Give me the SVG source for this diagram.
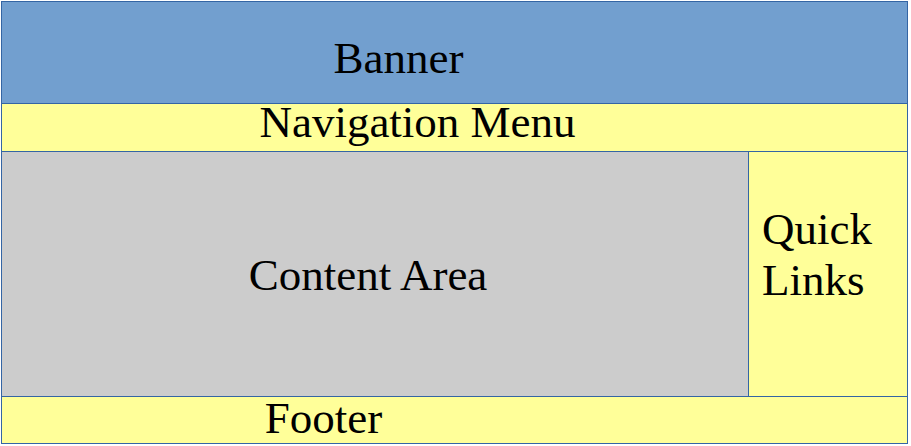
<svg xmlns="http://www.w3.org/2000/svg" width="911" height="446" viewBox="0 0 911 446">
<style>
.b{stroke:#3465a4;stroke-width:1}
.t{font-family:"Liberation Serif",serif;font-size:45px;fill:#000}
</style>
<rect width="911" height="446" fill="#fff"/>
<g id="banner"><rect class="b" x="1.5" y="1.5" width="906" height="102" fill="#729fcf"/><text class="t" x="398.5" y="73" text-anchor="middle">Banner</text></g>
<g id="nav"><rect class="b" x="1.5" y="103.5" width="906" height="48" fill="#ffff99"/><text class="t" x="417.5" y="137" text-anchor="middle">Navigation Menu</text></g>
<g id="content"><rect class="b" x="1.5" y="151.5" width="747" height="245" fill="#cccccc"/><text class="t" x="368" y="290" text-anchor="middle">Content Area</text></g>
<g id="quick"><rect class="b" x="748.5" y="151.5" width="159" height="245" fill="#ffff99"/><text class="t" x="762" y="244">Quick</text><text class="t" x="762" y="295">Links</text></g>
<g id="footer"><rect class="b" x="1.5" y="396.5" width="906" height="47" fill="#ffff99"/><text class="t" x="323.5" y="433" text-anchor="middle">Footer</text></g>
<g id="connectors"/>
</svg>
